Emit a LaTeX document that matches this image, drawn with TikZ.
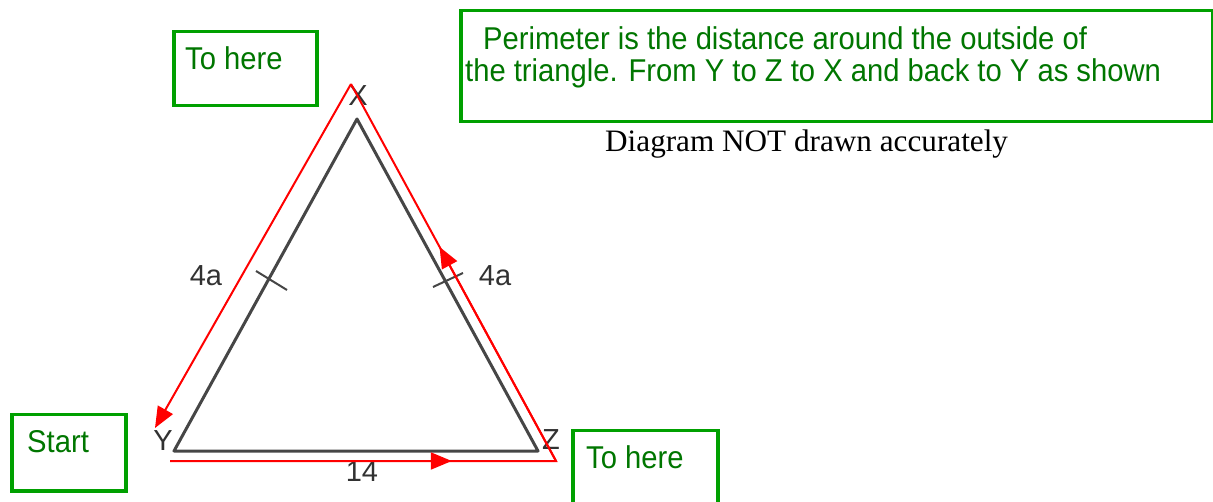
\documentclass[tikz,border=0pt]{standalone}
\usepackage{fontspec}
\setmainfont{Liberation Sans}
\newfontfamily\serifm{Liberation Serif}
\usetikzlibrary{arrows.meta,calc}
\definecolor{boxgreen}{RGB}{0,160,0}
\definecolor{txtgreen}{RGB}{0,118,0}
\definecolor{trigray}{RGB}{70,70,70}
\definecolor{lblgray}{RGB}{50,50,50}
\newcommand{\gstretch}[1]{\scalebox{1}[1.08]{#1}}
\tikzset{
  gbox/.style={draw=boxgreen, line width=3.5pt, inner sep=0pt, anchor=north west},
  gtext/.style={text=txtgreen, font=\fontsize{29.2}{33}\selectfont, anchor=base west, inner sep=0pt},
  lbl/.style={text=lblgray, font=\fontsize{29}{32}\selectfont, inner sep=0pt},
  triline/.style={draw=trigray, line width=3pt, line join=round},
  tick/.style={draw=trigray, line width=2pt},
  redline/.style={draw=red, line width=2pt},
  redarrow/.style={draw=red, line width=2pt, -{Triangle[length=21pt,width=17pt]}},
}
\begin{document}
\begin{tikzpicture}[x=1pt,y=-1pt]
\useasboundingbox (0,0) rectangle (1213,502);
\clip (0,0) rectangle (1213,502);
% green boxes
\node[gbox, minimum width=143pt, minimum height=74pt] (boxTop) at (172,30) {};
\node[gtext] (txtTop) at (185,70) {\gstretch{To here}};
\node[gbox, minimum width=114pt, minimum height=76pt] (boxStart) at (10,413) {};
\node[gtext] (txtStart) at (27,453) {\gstretch{Start}};
\node[gbox, minimum width=145pt, minimum height=90pt] (boxBot) at (571,429) {};
\node[gtext] (txtBot) at (586,468) {\gstretch{To here}};
\node[gbox, minimum width=752pt, minimum height=111pt] (boxPer) at (459,9) {};
\node[gtext] (per1) at (483,50) {\gstretch{Perimeter is the distance around the outside of}};
\node[gtext] (per2) at (465,82) {\gstretch{the triangle. From Y to Z to X and back to Y as shown}};
\node[anchor=base west, inner sep=0pt, font=\serifm\fontsize{31.2}{34}\selectfont] (note) at (605,152) {Diagram NOT drawn accurately};
% triangle
\coordinate (X) at (357,119);
\coordinate (Y) at (174,451);
\coordinate (Z) at (538,451);
\draw[triline] (X) -- (Y) -- (Z) -- cycle;
\coordinate (t1a) at (256,271); \coordinate (t1b) at (287,290);
\coordinate (t2a) at (433,287); \coordinate (t2b) at (463,273);
\draw[tick] (t1a) -- (t1b);
\draw[tick] (t2a) -- (t2b);
% labels
\node[lbl] (lX) at (358,96) {X};
\node[lbl] (lY) at (163,441) {Y};
\node[lbl] (lZ) at (551,440) {Z};
\node[lbl] (l14) at (362,472) {14};
\node[lbl] (l4a1) at (206,276) {4a};
\node[lbl] (l4a2) at (495,276) {4a};
% red route
\coordinate (rA) at (170,461);
\coordinate (rB) at (556,461);
\coordinate (rC) at (351,84);
\coordinate (rD) at (155,428);
\draw[redline, line join=miter] (rA) -- (rB) -- (rC);
\draw[redarrow] (rC) -- (rD);
\draw[redarrow] (rA) -- ($(rA)!0.73!(rB)$);
\draw[redarrow] (rB) -- ($(rB)!0.568!(rC)$);
\end{tikzpicture}
\end{document}
